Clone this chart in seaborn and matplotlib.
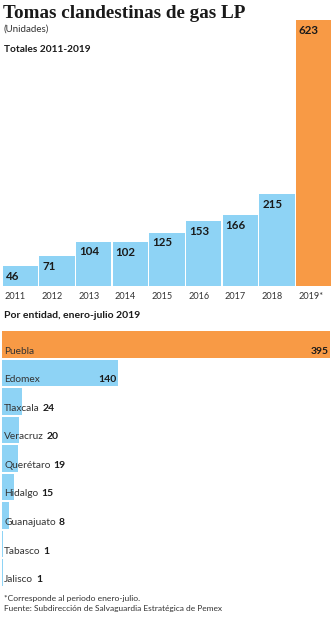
import matplotlib
matplotlib.use("Agg")
import matplotlib.pyplot as plt
import seaborn as sns
import pandas as pd

years = ["2011", "2012", "2013", "2014", "2015", "2016", "2017", "2018", "2019*"]
totals = [46, 71, 104, 102, 125, 153, 166, 215, 623]

states = ["Puebla", "Edomex", "Tlaxcala", "Veracruz", "Querétaro", "Hidalgo",
          "Guanajuato", "Tabasco", "Jalisco"]
state_values = [395, 140, 24, 20, 19, 15, 8, 1, 1]

title = "Tomas clandestinas de gas LP"
subtitle = "(Unidades)"
top_heading = "Totales 2011-2019"
bottom_heading = "Por entidad, enero-julio 2019"
notes = ["*Corresponde al periodo enero-julio.",
         "Fuente: Subdirección de Salvaguardia Estratégica de Pemex"]

BLUE = "#8ED3F5"
ORANGE = "#F89A45"
TEXT = "#1a1a1a"

sns.set_theme(style="white")
plt.rcParams["font.family"] = ["Lato", "DejaVu Sans"]

W, H = 334, 620
fig = plt.figure(figsize=(W / 100, H / 100), dpi=100)


def rect(x0, y0, x1, y1):
    return [x0 / W, 1 - y1 / H, (x1 - x0) / W, (y1 - y0) / H]


fig.text(3 / W, 1 - 13 / H, title, fontsize=13.8, fontweight="bold",
         family=["Liberation Serif"], color=TEXT, va="center", ha="left")
fig.text(4 / W, 1 - 29 / H, subtitle, fontsize=7, color="#333333",
         va="center", ha="left")
fig.text(4 / W, 1 - 49 / H, top_heading, fontsize=7.3, fontweight="bold",
         color=TEXT, va="center", ha="left")

# Yearly totals
df_years = pd.DataFrame({"year": years, "total": totals})
ax1 = fig.add_axes(rect(2, 20, 332, 286))
colors1 = [ORANGE if y.endswith("*") else BLUE for y in years]
sns.barplot(data=df_years, x="year", y="total", hue="year", palette=colors1,
            legend=False, width=0.96, ax=ax1, saturation=1, linewidth=0)
ax1.set_ylim(0, max(totals))
ax1.set_xlim(-0.5, len(years) - 0.5)
for i, v in enumerate(totals):
    ax1.annotate(str(v), (i - 0.48, v), xytext=(2, -3.5), textcoords="offset points",
                 ha="left", va="top", fontsize=8.3, fontweight="bold", color=TEXT)
ax1.set_xticks([i - 0.42 for i in range(len(years))])
ax1.set_xticklabels(years, ha="left")
ax1.set_xlabel("")
ax1.set_ylabel("")
ax1.set_yticks([])
ax1.tick_params(axis="x", length=0, labelsize=6.6, pad=4, colors="#333333")
sns.despine(ax=ax1, left=True, bottom=True)

fig.text(4 / W, 1 - 316 / H, bottom_heading, fontsize=7.5, fontweight="bold",
         color=TEXT, va="center", ha="left")

# By state
df_states = pd.DataFrame({"state": states, "value": state_values})
ax2 = fig.add_axes(rect(2, 330, 330, 587))
colors2 = [ORANGE] + [BLUE] * (len(states) - 1)
sns.barplot(data=df_states, y="state", x="value", hue="state", palette=colors2,
            legend=False, orient="h", width=0.93, ax=ax2, saturation=1,
            linewidth=0)
ax2.set_xlim(0, max(state_values))
ax2.set_ylim(len(states) - 0.5, -0.5)
ax2.set_xticks([])
ax2.set_yticks([])
ax2.set_xlabel("")
ax2.set_ylabel("")
sns.despine(ax=ax2, left=True, bottom=True)

fig.canvas.draw()
renderer = fig.canvas.get_renderer()
for i, (s, v) in enumerate(zip(states, state_values)):
    ypos = i + 0.33
    name = ax2.text(2.5, ypos, s, fontsize=7.3, color="#333333",
                    ha="left", va="baseline")
    if v > 100:
        ax2.text(v - 2, ypos, str(v), fontsize=7.5, fontweight="bold",
                 color=TEXT, ha="right", va="baseline")
    else:
        bb = name.get_window_extent(renderer)
        x_end = ax2.transData.inverted().transform((bb.x1, bb.y0))[0]
        ax2.annotate(str(v), (x_end, ypos), xytext=(2, 0),
                     textcoords="offset points", fontsize=7.5, fontweight="bold",
                     color=TEXT, ha="left", va="baseline")

fig.text(4 / W, 1 - 598 / H, notes[0], fontsize=6.1, color="#333333",
         va="center", ha="left")
fig.text(4 / W, 1 - 608 / H, notes[1], fontsize=6.0, color="#333333",
         va="center", ha="left")

fig.savefig("out.png", dpi=100)
